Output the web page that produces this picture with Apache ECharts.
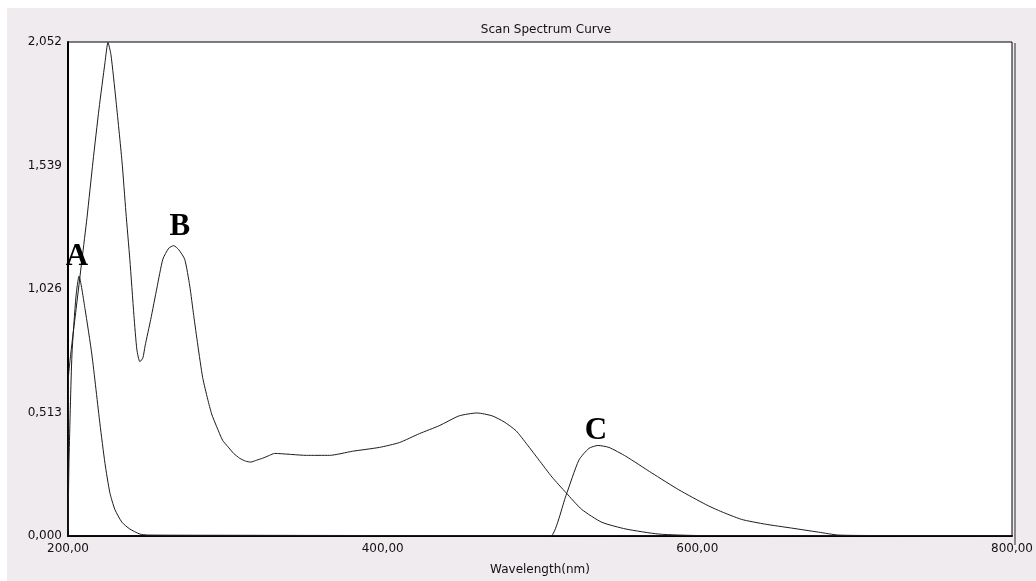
<!DOCTYPE html>
<html>
<head>
<meta charset="utf-8">
<title>Scan Spectrum Curve</title>
<script src="https://cdn.jsdelivr.net/npm/echarts@6/dist/echarts.min.js"></script>
<style>
  html, body { margin: 0; padding: 0; background: #ffffff; }
  #chart { width: 1036px; height: 581px; }
</style>
</head>
<body>
<div id="chart"></div>
<script>
// Axis ranges and ticks
const xTicks = [200, 400, 600, 800];
const yTicks = [0, 0.513, 1.026, 1.539, 2.052];

// Spectrum A: wavelength (nm) and absorbance
const wlA  = [200.0, 200.6, 202.5, 205.1, 207.0, 210.8, 215.2, 220.3, 223.5, 226.6, 229.8, 234.3, 239.3, 245.7, 250.7, 300, 400, 500, 600, 700, 800];
const absA = [0.000, 0.300, 0.752, 0.997, 1.079, 0.944, 0.752, 0.466, 0.302, 0.180, 0.110, 0.057, 0.029, 0.008, 0.004, 0.003, 0.002, 0.002, 0.001, 0.001, 0.001];

// Spectrum B
const wlB  = [200.0, 200.3, 201.3, 202.5, 205.1, 208.9, 212.1, 215.9, 219.7, 223.5, 225.4, 227.3, 230.4, 234.3, 236.8, 239.3, 241.9, 243.8, 245.7, 247.6, 249.0, 252.6, 256.5, 260.3, 264.1, 267.2, 270.4, 274.2, 277.4, 279.9, 282.5, 285.6, 288.8, 291.3, 294.5, 298.3, 301.5, 305.3, 309.1, 312.9, 316.1, 319.9, 323.7, 328.1, 331.3, 351.6, 366.2, 380.8, 397.9, 410.6, 423.3, 435.9, 448.6, 460.0, 469.6, 477.2, 484.8, 491.8, 499.4, 507.6, 516.5, 526.6, 539.3, 554.6, 575.5, 600.9, 700, 800];
const absB = [0.020, 0.660, 0.730, 0.800, 0.940, 1.149, 1.324, 1.557, 1.774, 1.966, 2.050, 1.999, 1.815, 1.557, 1.345, 1.149, 0.916, 0.773, 0.724, 0.740, 0.790, 0.900, 1.030, 1.150, 1.196, 1.206, 1.189, 1.149, 1.038, 0.916, 0.793, 0.658, 0.568, 0.507, 0.454, 0.397, 0.372, 0.343, 0.323, 0.311, 0.307, 0.315, 0.323, 0.335, 0.343, 0.335, 0.335, 0.352, 0.368, 0.388, 0.425, 0.458, 0.499, 0.511, 0.499, 0.474, 0.437, 0.380, 0.315, 0.245, 0.180, 0.110, 0.057, 0.029, 0.008, 0.002, 0.001, 0.001];

// Spectrum C
const wlC  = [200, 300, 400, 500, 506.9, 516.5, 524.7, 531.1, 536.8, 543.8, 554.6, 571.0, 588.2, 605.3, 613.5, 628.1, 643.3, 659.8, 677.0, 689.6, 713.1, 800];
const absC = [0.000, 0.000, 0.000, 0.000, 0.000, 0.168, 0.315, 0.364, 0.376, 0.368, 0.331, 0.262, 0.192, 0.131, 0.106, 0.069, 0.049, 0.033, 0.016, 0.004, 0.002, 0.000];

// Peak letters: [label, wavelength, absorbance]
const peakTags = [['A', 207.0, 1.079], ['B', 267.2, 1.206], ['C', 536.8, 0.376]];
const tagOffsets = { A: [-2, -19], B: [6, -19], C: [-2, -14] };

const zip = (xs, ys) => xs.map((x, i) => [x, ys[i]]);
const comma = (v, d) => v.toFixed(d).replace('.', ',');

const GRID = { left: 68, top: 42, width: 946, height: 502 };
const TEXT = '#111111';
const LINE = '#1c1c1c';
const FONT = 'DejaVu Sans';

function spectrum(name, pts) {
  return {
    name: name,
    type: 'line',
    data: pts,
    showSymbol: false,
    smooth: 0.2,
    lineStyle: { color: LINE, width: 1 },
    emphasis: { disabled: true },
    silent: true,
    z: 3
  };
}

const series = [
  spectrum('A', zip(wlA, absA)),
  spectrum('B', zip(wlB, absB)),
  spectrum('C', zip(wlC, absC))
];

// Letters placed over the peaks of each spectrum
series.push({
  type: 'scatter',
  data: [],
  silent: true,
  markPoint: {
    symbol: 'circle',
    symbolSize: 1,
    itemStyle: { color: 'rgba(0,0,0,0)' },
    silent: true,
    data: peakTags.map(t => ({
      name: t[0],
      coord: [t[1], t[2]],
      label: {
        show: true,
        position: 'inside',
        formatter: t[0],
        offset: tagOffsets[t[0]],
        color: '#000',
        fontFamily: 'Liberation Serif',
        fontWeight: 'bold',
        fontSize: 31
      }
    }))
  }
});

const chart = echarts.init(document.getElementById('chart'), null, { renderer: 'canvas' });

chart.setOption({
  animation: false,
  backgroundColor: '#ffffff',
  graphic: [
    // panel background
    { type: 'rect', z: -10, silent: true, shape: { x: 7, y: 8, width: 1029, height: 573 }, style: { fill: '#efebef' } },
    // shadow at the right edge of the plot frame
    { type: 'rect', z: 10, silent: true, shape: { x: GRID.left + GRID.width, y: GRID.top + 1, width: 2, height: GRID.height }, style: { fill: '#8a8a8a' } }
  ],
  title: {
    text: 'Scan Spectrum Curve',
    left: GRID.left + GRID.width / 2,
    textAlign: 'center',
    top: 19,
    textStyle: { fontFamily: FONT, fontSize: 12, fontWeight: 'normal', color: TEXT }
  },
  grid: {
    left: GRID.left, top: GRID.top, width: GRID.width, height: GRID.height,
    show: true, backgroundColor: '#ffffff', borderColor: '#000000', borderWidth: 1
  },
  xAxis: {
    type: 'value',
    min: xTicks[0], max: xTicks[xTicks.length - 1], interval: 200,
    name: 'Wavelength(nm)', nameLocation: 'middle', nameGap: 28,
    nameTextStyle: { fontFamily: FONT, fontSize: 12, color: TEXT },
    axisLine: { show: true, onZero: false, lineStyle: { color: '#000', width: 2 } },
    axisTick: { show: false },
    splitLine: { show: false },
    axisLabel: { margin: 7, fontFamily: FONT, fontSize: 12, color: TEXT, formatter: v => comma(v, 2) }
  },
  yAxis: {
    type: 'value',
    min: yTicks[0], max: yTicks[yTicks.length - 1], interval: 0.513,
    axisLine: { show: true, onZero: false, lineStyle: { color: '#000', width: 2 } },
    axisTick: { show: false },
    splitLine: { show: false },
    axisLabel: { margin: 6, fontFamily: FONT, fontSize: 12, color: TEXT, formatter: v => comma(v, 3) }
  },
  series: series
});
</script>
</body>
</html>
